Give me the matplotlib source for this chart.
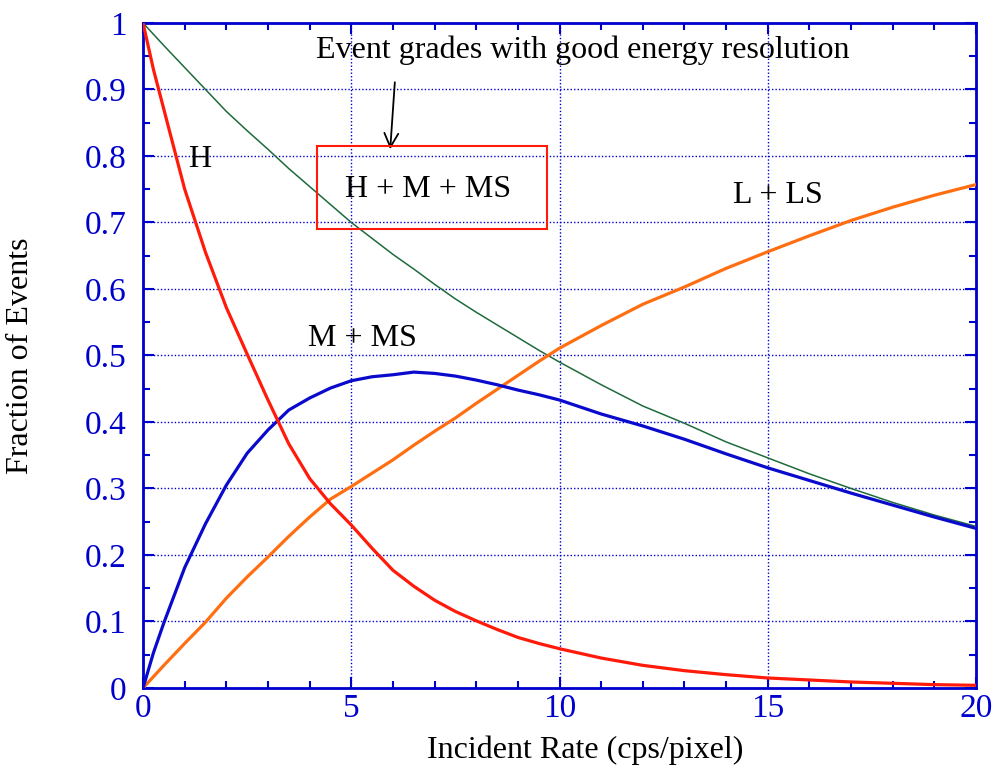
import numpy as np
import matplotlib
matplotlib.use("Agg")
import matplotlib.pyplot as plt
from matplotlib.ticker import MultipleLocator, FuncFormatter

plt.rcParams['font.family'] = ['Liberation Serif', 'DejaVu Serif']

# incident rate (cps/pixel)
rate = [0, 0.25, 0.5, 1, 1.5, 2, 2.5, 3, 3.5, 4, 4.5,
        5, 5.5, 6, 6.5, 7, 7.5, 8, 8.5, 9, 9.5, 10,
        11, 12, 13, 14, 15, 16, 17, 18, 19, 20]

# fraction of events per grade group
frac_h = [1.0, 0.93, 0.87, 0.75, 0.655, 0.572, 0.502, 0.433, 0.367, 0.315, 0.277,
          0.245, 0.21, 0.177, 0.153, 0.132, 0.115, 0.101, 0.088, 0.076, 0.067, 0.059,
          0.045, 0.034, 0.026, 0.02, 0.015, 0.012, 0.009, 0.007, 0.005, 0.004]
frac_m_ms = [0, 0.053, 0.098, 0.181, 0.247, 0.305, 0.353, 0.388, 0.418, 0.436, 0.451,
             0.462, 0.468, 0.471, 0.475, 0.473, 0.469, 0.463, 0.456, 0.448, 0.441, 0.433,
             0.412, 0.394, 0.374, 0.352, 0.331, 0.312, 0.293, 0.275, 0.257, 0.24]
frac_h_m_ms = [1.0, 0.983, 0.966, 0.933, 0.9, 0.867, 0.838, 0.81, 0.781, 0.754, 0.727,
               0.70, 0.676, 0.652, 0.63, 0.607, 0.585, 0.565, 0.546, 0.527, 0.508, 0.49,
               0.456, 0.424, 0.398, 0.37, 0.346, 0.322, 0.3, 0.279, 0.26, 0.243]
frac_l_ls = [0, 0.017, 0.034, 0.067, 0.099, 0.135, 0.167, 0.197, 0.228, 0.257, 0.284,
             0.303, 0.323, 0.343, 0.365, 0.386, 0.406, 0.428, 0.449, 0.47, 0.491, 0.511,
             0.545, 0.577, 0.603, 0.631, 0.656, 0.68, 0.703, 0.723, 0.741, 0.757]

axis_blue = '#0000cc'
txt = 23

fig = plt.figure(figsize=(9.92, 7.71), dpi=100)
ax = fig.add_axes([0.1442, 0.1077, 0.8397, 0.8625])

ax.plot(rate, frac_h_m_ms, color='#1e6b3c', lw=1.1, zorder=3)
ax.plot(rate, frac_l_ls, color='#ff6f12', lw=2.3, zorder=3)
ax.plot(rate, frac_m_ms, color='#0a0acc', lw=2.3, zorder=4)
ax.plot(rate, frac_h, color='#ff1a0a', lw=2.3, zorder=5)

ax.set_xlim(0, 20)
ax.set_ylim(0, 1)
ax.xaxis.set_major_locator(MultipleLocator(5))
ax.xaxis.set_minor_locator(MultipleLocator(1))
ax.yaxis.set_major_locator(MultipleLocator(0.1))
ax.yaxis.set_minor_locator(MultipleLocator(0.05))
ax.yaxis.set_major_formatter(FuncFormatter(lambda v, p: '%g' % round(v, 2)))

ax.grid(True, which='major', color=axis_blue, linestyle=(0, (1, 1.5)), lw=1.0, zorder=0)
ax.tick_params(which='both', direction='in', top=True, right=True, color=axis_blue,
               width=1.5, labelcolor=axis_blue, labelsize=24)
ax.tick_params(which='major', length=8)
ax.tick_params(which='minor', length=5)
ax.tick_params(axis='y', which='major', pad=12)
ax.tick_params(axis='x', which='major', pad=4)
for s in ax.spines.values():
    s.set_color(axis_blue)
    s.set_linewidth(2)

ax.set_xlabel('Incident Rate (cps/pixel)', fontsize=txt, va='center')
ax.set_ylabel('Fraction of Events', fontsize=txt, va='center')
ax.xaxis.set_label_coords(0.5306, -0.093)
ax.yaxis.set_label_coords(-0.1477, 0.5)

ax.text(1.37, 0.795, 'H', fontsize=txt, ha='center', va='center')
ax.text(5.26, 0.526, 'M + MS', fontsize=txt, ha='center', va='center')
ax.text(15.25, 0.74, 'L + LS', fontsize=txt, ha='center', va='center')
ax.text(6.84, 0.749, 'H + M + MS', fontsize=txt, ha='center', va='center')
ax.add_patch(plt.Rectangle((4.18, 0.69), 5.52, 0.125, fill=False,
                           edgecolor='#ff1a0a', lw=1.5, zorder=6))
ax.text(10.56, 0.959, 'Event grades with good energy resolution', fontsize=txt,
        ha='center', va='center')
ax.annotate('', xy=(5.93, 0.806), xytext=(6.05, 0.915),
            arrowprops=dict(arrowstyle='->', color='black', lw=1.3, mutation_scale=25))

fig.savefig('out.png', dpi=100)
